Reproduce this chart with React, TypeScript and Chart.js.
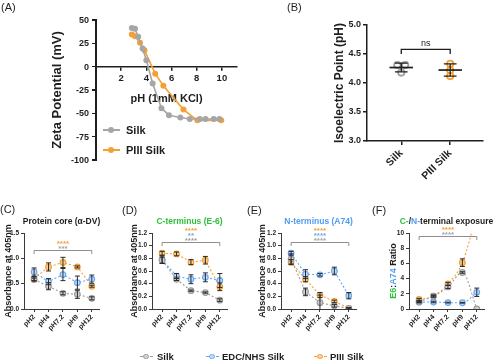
import React, { useEffect, useRef } from 'react';
import { Chart, registerables } from 'chart.js';

Chart.register(...registerables);

// ---------------- data ----------------
// (A) zeta potential vs pH (1mM KCl)
const zetaSilkPH = [2.85, 3.1, 3.35, 3.7, 4.0, 4.5, 5.2, 5.8, 6.7, 7.45, 8.25, 8.7, 9.35, 9.8];
const zetaSilkMV = [41.5, 40.5, 32, 19.5, 7, -18, -44.5, -52, -54.5, -56, -56, -56, -56, -56];
const zetaPIIIPH = [2.85, 3.1, 3.5, 3.85, 4.7, 5.35, 6.95, 8.05, 9.95];
const zetaPIIIMV = [34.5, 32.5, 25.5, 17.5, -7.5, -20.5, -46, -57.5, -57.5];
const zetaTicksX = [2, 4, 6, 8, 10];
const zetaTicksY = [-100, -75, -50, -25, 0, 25, 50];
const zetaRangePH = [0, 11.2];
const zetaRangeMV = [-100, 50];

// (B) isoelectric point
const pIGroups = ['Silk', 'PIII Silk'];
const pISilk = [4.31, 4.31, 4.18];
const pIPIII = [4.33, 4.22, 4.12];
const pISilkJitter = [-0.08, 0.08, 0];
const pIPIIIJitter = [0, 0, 0];
const pIBracketLevel = 4.58;
const pIBracketText = 'ns';

// (C-F) absorbance panels
const phLabels = ['pH2', 'pH4', 'pH7.2', 'pH9', 'pH12'];
const seriesNames = ['Silk', 'EDC/NHS Silk', 'PIII Silk'];

// (C) protein core
const coreSilk = [0.58, 0.45, 0.31, 0.29, 0.21];
const coreSilkErr = [0.03, 0.07, 0.03, 0.08, 0.03];
const coreEDC = [0.73, 0.54, 0.68, 0.52, 0.59];
const coreEDCErr = [0.08, 0.06, 0.12, 0.13, 0.08];
const corePIII = [0.6, 0.83, 0.92, 0.83, 0.45];
const corePIIIErr = [0.04, 0.08, 0.1, 0.02, 0.02];
const coreSig: [number, string][] = [[2, '****'], [0, '***']];

// (D) C-terminus
const cTermSilk = [0.77, 0.47, 0.29, 0.26, 0.14];
const cTermSilkErr = [0.05, 0.02, 0.01, 0.01, 0.02];
const cTermEDC = [0.78, 0.52, 0.47, 0.5, 0.45];
const cTermEDCErr = [0.06, 0.04, 0.07, 0.07, 0.11];
const cTermPIII = [0.88, 0.87, 0.74, 0.77, 0.35];
const cTermPIIIErr = [0.03, 0.03, 0.04, 0.06, 0.06];
const cTermSig: [number, string][] = [[2, '****'], [1, '**'], [0, '****']];

// (E) N-terminus
const nTermSilk = [0.79, 0.27, 0.1, 0.05, 0.01];
const nTermSilkErr = [0.08, 0.06, 0.12, 0.02, 0.01];
const nTermEDC = [0.88, 0.55, 0.54, 0.6, 0.21];
const nTermEDCErr = [0.03, 0.07, 0.02, 0.06, 0.05];
const nTermPIII = [0.74, 0.47, 0.22, 0.12, 0.01];
const nTermPIIIErr = [0.04, 0.04, 0.04, 0.02, 0.01];
const nTermSig: [number, string][] = [[2, '****'], [1, '****'], [0, '****']];

// (F) E6:A74 ratio
const ratioSilk = [0.95, 1.7, 2.9, 4.8, 0];
const ratioSilkErr = [0.1, 0.15, 0.2, 0.1, 0];
const ratioEDC = [0.9, 0.92, 0.84, 0.82, 2.2];
const ratioEDCErr = [0.1, 0.1, 0.05, 0.05, 0.55];
const ratioPIII = [1.25, 1.7, 3.3, 6.1, 12.5];
const ratioPIIIErr = [0.15, 0.1, 0.2, 0.5, 0];
const ratioSig: [number, string][] = [[2, '****'], [0, '****']];

// ---------------- style ----------------
const FONT = "'Liberation Sans', Arial, Helvetica, sans-serif";
const INK = '#1e1e1e';
const AXIS2 = '#3a3a3a';
const GRAY = '#9c9c9c';
const GRAY_FILL = '#d2d2d2';
const BLUE = '#6aa8f2';
const BLUE_FILL = '#c2dcfb';
const ORANGE = '#f5a034';
const ORANGE_FILL = '#f9cf96';
const GREEN = '#2fbf3a';
const TITLE_BLUE = '#4e9df0';
const ERR = '#2a2a2a';
const BRACKET = '#8e8e8e';
const LINE_COLORS = [GRAY, BLUE, ORANGE];
const FILL_COLORS = [GRAY_FILL, BLUE_FILL, ORANGE_FILL];
const STAR_COLORS = ['#a3a3a3', BLUE, ORANGE];

type Rect = { l: number; t: number; w: number; h: number };
type Area = { l: number; t: number; r: number; b: number };

const font = (size: number, bold = true) => ({ family: FONT, size, weight: bold ? 'bold' : 'normal' });

function axisLook(color: string, width: number, tickLength: number) {
  return {
    grid: { display: true, drawOnChartArea: false, drawTicks: true, tickLength, color, lineWidth: width },
    border: { display: true, color, width },
  };
}

// ---------------- plugins ----------------
const errorBarPlugin = {
  id: 'errorBars',
  afterDatasetsDraw(chart: any) {
    const { ctx, chartArea } = chart;
    const yScale = chart.scales.y;
    ctx.save();
    ctx.beginPath();
    ctx.rect(chartArea.left - 6, chartArea.top, chartArea.right - chartArea.left + 12, chartArea.bottom - chartArea.top);
    ctx.clip();
    ctx.strokeStyle = ERR;
    ctx.lineWidth = 1;
    chart.data.datasets.forEach((ds: any, i: number) => {
      if (!ds.errors) return;
      const meta = chart.getDatasetMeta(i);
      meta.data.forEach((pt: any, j: number) => {
        const e = ds.errors[j];
        if (!e) return;
        const v = ds.data[j].y;
        const top = yScale.getPixelForValue(v + e);
        const bot = yScale.getPixelForValue(v - e);
        ctx.beginPath();
        ctx.moveTo(pt.x, top);
        ctx.lineTo(pt.x, bot);
        ctx.moveTo(pt.x - 2.5, top);
        ctx.lineTo(pt.x + 2.5, top);
        ctx.moveTo(pt.x - 2.5, bot);
        ctx.lineTo(pt.x + 2.5, bot);
        ctx.stroke();
      });
    });
    ctx.restore();
  },
};

function sigPlugin(level: number, marks: [number, string][]) {
  return {
    id: 'sig',
    afterDraw(chart: any) {
      const { ctx } = chart;
      const { x, y } = chart.scales;
      const x1 = x.getPixelForValue(0);
      const x2 = x.getPixelForValue(phLabels.length - 1);
      const yb = Math.round(y.getPixelForValue(level)) + 0.5;
      ctx.save();
      ctx.strokeStyle = BRACKET;
      ctx.lineWidth = 1;
      ctx.beginPath();
      ctx.moveTo(x1, yb + 3.5);
      ctx.lineTo(x1, yb);
      ctx.lineTo(x2, yb);
      ctx.lineTo(x2, yb + 3.5);
      ctx.stroke();
      ctx.font = `bold 8px ${FONT}`;
      ctx.textAlign = 'center';
      ctx.textBaseline = 'alphabetic';
      const cx = (x1 + x2) / 2;
      marks.forEach(([s, txt], i) => {
        const k = marks.length - 1 - i;
        const cy = yb - 4 - k * 5.3;
        ctx.fillStyle = STAR_COLORS[s];
        ctx.fillText(txt, cx, cy + 4.6);
      });
      ctx.restore();
    },
  };
}

const pIStatsPlugin = {
  id: 'pIStats',
  afterDatasetsDraw(chart: any) {
    const { ctx } = chart;
    const { x, y } = chart.scales;
    const unit = x.getPixelForValue(2) - x.getPixelForValue(1);
    ctx.save();
    ctx.strokeStyle = INK;
    [pISilk, pIPIII].forEach((vals, g) => {
      const m = vals.reduce((a, b) => a + b, 0) / vals.length;
      const sd = Math.sqrt(vals.reduce((a, b) => a + (b - m) * (b - m), 0) / (vals.length - 1));
      const cx = x.getPixelForValue(g + 1);
      const ym = y.getPixelForValue(m);
      const yt = y.getPixelForValue(m + sd);
      const ybt = y.getPixelForValue(m - sd);
      ctx.lineWidth = 1.7;
      ctx.beginPath();
      ctx.moveTo(cx - 0.24 * unit, ym);
      ctx.lineTo(cx + 0.24 * unit, ym);
      ctx.stroke();
      ctx.lineWidth = 1.3;
      ctx.beginPath();
      ctx.moveTo(cx, yt);
      ctx.lineTo(cx, ybt);
      ctx.moveTo(cx - 0.13 * unit, yt);
      ctx.lineTo(cx + 0.13 * unit, yt);
      ctx.moveTo(cx - 0.13 * unit, ybt);
      ctx.lineTo(cx + 0.13 * unit, ybt);
      ctx.stroke();
    });
    const x1 = x.getPixelForValue(1);
    const x2 = x.getPixelForValue(2);
    const yb = y.getPixelForValue(pIBracketLevel);
    const yt = y.getPixelForValue(pIBracketLevel - 0.08);
    ctx.lineWidth = 1.3;
    ctx.beginPath();
    ctx.moveTo(x1, yt);
    ctx.lineTo(x1, yb);
    ctx.lineTo(x2, yb);
    ctx.lineTo(x2, yt);
    ctx.stroke();
    ctx.fillStyle = INK;
    ctx.font = `9px ${FONT}`;
    ctx.textAlign = 'center';
    ctx.textBaseline = 'alphabetic';
    ctx.fillText(pIBracketText, (x1 + x2) / 2, yb - 3.5);
    ctx.restore();
  },
};

// ---------------- configs ----------------
const rectA: Rect = { l: 0, t: 0, w: 250, h: 180 };
const areaA: Area = { l: 96, t: 20, r: 237, b: 160 };
const baseOpts = {
  responsive: false,
  animation: false,
  events: [],
};
const noLegend = { legend: { display: false }, tooltip: { enabled: false } };

// pixel of a mV value on panel A's linear y scale (same mapping as the chart's scale)
const zetaPx = (v: number) =>
  areaA.t + (areaA.b - areaA.t) * (zetaRangeMV[1] - v) / (zetaRangeMV[1] - zetaRangeMV[0]);

// (A) data layer
function configA() {
  return {
    type: 'scatter',
    data: {
      datasets: [
        {
          label: 'Silk',
          data: zetaSilkPH.map((x, i) => ({ x, y: zetaSilkMV[i] })),
          showLine: true,
          borderColor: '#a6a6a6',
          backgroundColor: '#a6a6a6',
          borderWidth: 1.6,
          pointRadius: 3,
          pointBorderWidth: 0,
        },
        {
          label: 'PIII Silk',
          data: zetaPIIIPH.map((x, i) => ({ x, y: zetaPIIIMV[i] })),
          showLine: true,
          borderColor: ORANGE,
          backgroundColor: ORANGE,
          borderWidth: 1.6,
          pointRadius: 3,
          pointBorderWidth: 0,
        },
      ],
    },
    options: {
      ...baseOpts,
      layout: { padding: { left: areaA.l - rectA.l, top: areaA.t - rectA.t, right: rectA.l + rectA.w - areaA.r, bottom: rectA.t + rectA.h - areaA.b } },
      plugins: noLegend,
      scales: {
        x: { type: 'linear', display: false, min: zetaRangePH[0], max: zetaRangePH[1] },
        y: { type: 'linear', display: false, min: zetaRangeMV[0], max: zetaRangeMV[1] },
      },
    },
  };
}

// (A) mV axis title layer
function configAy() {
  const yTitleX = 57;
  const tPadTop = 4;
  const tSize = 13;
  const padL = yTitleX - rectA.l - (tPadTop + tSize * 1.2 / 2);
  const yW = areaA.l - rectA.l - padL;
  return {
    type: 'scatter',
    data: { datasets: [] },
    options: {
      ...baseOpts,
      layout: { padding: { left: padL, top: areaA.t - rectA.t, right: rectA.l + rectA.w - areaA.r, bottom: rectA.t + rectA.h - areaA.b } },
      plugins: noLegend,
      scales: {
        x: { type: 'linear', display: false, min: zetaRangePH[0], max: zetaRangePH[1] },
        y: {
          type: 'linear',
          min: zetaRangeMV[0],
          max: zetaRangeMV[1],
          afterFit: (s: any) => { s.width = yW; },
          ticks: { display: false },
          grid: { display: false },
          border: { display: false },
          title: { display: true, text: 'Zeta Potential (mV)', font: font(tSize), color: INK, padding: { top: tPadTop, bottom: 4 } },
        },
      },
    },
  };
}

// (A) pH axis layer, crossing at 0 mV
function configAx() {
  const zeroY = zetaPx(0);
  const titleY = 99;
  const xH = titleY - zeroY + (11 * 1.2 / 2 + 4);
  return {
    type: 'scatter',
    data: { datasets: [] },
    options: {
      ...baseOpts,
      layout: { padding: { left: areaA.l - rectA.l, top: areaA.t - rectA.t, right: rectA.l + rectA.w - areaA.r, bottom: rectA.t + rectA.h - zeroY - xH } },
      plugins: noLegend,
      scales: {
        x: {
          type: 'linear',
          position: 'bottom',
          min: zetaRangePH[0],
          max: zetaRangePH[1],
          afterBuildTicks: (s: any) => { s.ticks = zetaTicksX.map((v) => ({ value: v })); },
          afterFit: (s: any) => { s.height = xH; },
          ticks: { font: font(9.5), color: INK, padding: 2, autoSkip: false, maxRotation: 0, callback: (v: number) => String(v) },
          title: { display: true, text: 'pH (1mM KCl)', font: font(11), color: INK, padding: { top: 4, bottom: 4 } },
          ...axisLook(INK, 1.5, 4),
        },
        y: { type: 'linear', display: false, min: 0, max: 1 },
      },
    },
  };
}

const rectB: Rect = { l: 250, t: 0, w: 250, h: 200 };
const areaB: Area = { l: 367, t: 25, r: 483, b: 141 };

function configB() {
  const yTitleX = 340;
  const padL = yTitleX - rectB.l - (4 + 12 * 1.2 / 2);
  const yW = areaB.l - rectB.l - padL;
  const pointStyle = (c: string) => ({
    showLine: false,
    borderColor: c,
    backgroundColor: 'rgba(255,255,255,0.9)',
    pointRadius: 3.2,
    pointBorderWidth: 1.8,
  });
  return {
    type: 'scatter',
    data: {
      datasets: [
        { label: pIGroups[0], data: pISilk.map((y, i) => ({ x: 1 + pISilkJitter[i], y })), ...pointStyle('#a0a0a0') },
        { label: pIGroups[1], data: pIPIII.map((y, i) => ({ x: 2 + pIPIIIJitter[i], y })), ...pointStyle(ORANGE) },
      ],
    },
    plugins: [pIStatsPlugin],
    options: {
      ...baseOpts,
      layout: { padding: { left: padL, top: areaB.t - rectB.t, right: rectB.l + rectB.w - areaB.r, bottom: 0 } },
      plugins: noLegend,
      scales: {
        x: {
          type: 'linear',
          min: 0.3,
          max: 2.67,
          afterBuildTicks: (s: any) => { s.ticks = pIGroups.map((_, i) => ({ value: i + 1 })); },
          afterFit: (s: any) => { s.height = rectB.t + rectB.h - areaB.b; },
          ticks: {
            font: font(10.5),
            color: INK,
            padding: 2,
            autoSkip: false,
            minRotation: 45,
            maxRotation: 45,
            callback: (v: number) => pIGroups[Math.round(v) - 1],
          },
          ...axisLook(INK, 1.5, 4),
        },
        y: {
          type: 'linear',
          min: 3,
          max: 5,
          afterFit: (s: any) => { s.width = yW; },
          ticks: { stepSize: 0.5, font: font(9), color: INK, padding: 2, callback: (v: number) => v.toFixed(1) },
          title: { display: true, text: 'Isoelectric Point (pH)', font: font(12), color: INK, padding: { top: 4, bottom: 4 } },
          ...axisLook(INK, 1.5, 4),
        },
      },
    },
  };
}

type Panel = {
  rect: Rect;
  area: Area;
  yTitle?: string;
  yTitleX: number;
  yMax: number;
  yStep: number;
  yDigits: number;
  vals: number[][];
  errs: number[][];
  sigLevel: number;
  sig: [number, string][];
  smooth?: boolean;
};

function assayConfig(p: Panel) {
  const lh = 9 * 1.2;
  const padL = p.yTitle ? p.yTitleX - p.rect.l - lh / 2 : 0;
  const yW = p.area.l - p.rect.l - padL;
  const xH = p.rect.t + p.rect.h - p.area.b;
  return {
    type: 'scatter',
    data: {
      datasets: p.vals.map((vals, s) => ({
        label: seriesNames[s],
        data: vals.map((v, i) => ({ x: i, y: v })),
        errors: p.errs[s],
        showLine: true,
        borderColor: LINE_COLORS[s],
        backgroundColor: FILL_COLORS[s],
        borderWidth: 1.1,
        borderDash: [2, 2],
        pointRadius: 2.8,
        pointBorderWidth: 1.2,
        pointBorderColor: LINE_COLORS[s],
        pointBackgroundColor: FILL_COLORS[s],
        cubicInterpolationMode: p.smooth ? 'monotone' : 'default',
        tension: 0,
      })),
    },
    plugins: [errorBarPlugin, sigPlugin(p.sigLevel, p.sig)],
    options: {
      ...baseOpts,
      layout: { padding: { left: padL, top: p.area.t - p.rect.t, right: p.rect.l + p.rect.w - p.area.r, bottom: 0 } },
      plugins: noLegend,
      scales: {
        x: {
          type: 'linear',
          min: -0.7,
          max: 4.5,
          afterBuildTicks: (s: any) => { s.ticks = phLabels.map((_, i) => ({ value: i })); },
          afterFit: (s: any) => { s.height = xH; },
          ticks: {
            font: font(7),
            color: INK,
            padding: 1,
            autoSkip: false,
            minRotation: 45,
            maxRotation: 45,
            callback: (v: number) => phLabels[Math.round(v)],
          },
          ...axisLook(AXIS2, 1, 3),
        },
        y: {
          type: 'linear',
          min: 0,
          max: p.yMax,
          afterFit: (s: any) => { s.width = yW; },
          ticks: { stepSize: p.yStep, font: font(6.5), color: INK, padding: 2, callback: (v: number) => v.toFixed(p.yDigits) },
          title: { display: !!p.yTitle, text: p.yTitle || '', font: font(9), color: INK, padding: { top: 0, bottom: 0 } },
          ...axisLook(AXIS2, 1, 3),
        },
      },
    },
  };
}

const panelC: Panel = {
  rect: { l: 0, t: 195, w: 106, h: 145 },
  area: { l: 24, t: 233, r: 99, b: 309 },
  yTitle: 'Absorbance at 405nm',
  yTitleX: 8.5,
  yMax: 1.5, yStep: 0.5, yDigits: 1,
  vals: [coreSilk, coreEDC, corePIII],
  errs: [coreSilkErr, coreEDCErr, corePIIIErr],
  sigLevel: 1.17, sig: coreSig,
};
const panelD: Panel = {
  rect: { l: 127, t: 195, w: 106, h: 145 },
  area: { l: 152, t: 233, r: 227, b: 309 },
  yTitle: 'Absorbance at 405nm',
  yTitleX: 135,
  yMax: 1.2, yStep: 0.2, yDigits: 1,
  vals: [cTermSilk, cTermEDC, cTermPIII],
  errs: [cTermSilkErr, cTermEDCErr, cTermPIIIErr],
  sigLevel: 1.06, sig: cTermSig,
};
const panelE: Panel = {
  rect: { l: 254, t: 195, w: 108, h: 145 },
  area: { l: 281, t: 233, r: 356, b: 309 },
  yTitle: 'Absorbance at 405nm',
  yTitleX: 262.5,
  yMax: 1.2, yStep: 0.2, yDigits: 1,
  vals: [nTermSilk, nTermEDC, nTermPIII],
  errs: [nTermSilkErr, nTermEDCErr, nTermPIIIErr],
  sigLevel: 1.05, sig: nTermSig,
};
const panelF: Panel = {
  rect: { l: 384, t: 195, w: 106, h: 145 },
  area: { l: 409, t: 233, r: 484, b: 309 },
  yTitleX: 393,
  yMax: 10, yStep: 2, yDigits: 0,
  vals: [ratioSilk, ratioEDC, ratioPIII],
  errs: [ratioSilkErr, ratioEDCErr, ratioPIIIErr],
  sigLevel: 9.6, sig: ratioSig,
  smooth: true,
};

// ---------------- components ----------------
function ChartCanvas({ rect, make }: { rect: Rect; make: () => any }) {
  const ref = useRef<HTMLCanvasElement>(null);
  useEffect(() => {
    const chart = new Chart(ref.current as HTMLCanvasElement, make() as any);
    return () => chart.destroy();
  }, []);
  return (
    <canvas
      ref={ref}
      width={rect.w}
      height={rect.h}
      style={{ position: 'absolute', left: rect.l, top: rect.t, width: rect.w, height: rect.h }}
    />
  );
}

function Txt({ x, y, size, bold = true, color = INK, anchor = 'middle', rotate, z, children }: any) {
  const tx = anchor === 'start' ? '0' : anchor === 'end' ? '-100%' : '-50%';
  return (
    <div
      style={{
        position: 'absolute',
        left: x,
        top: y,
        transform: `translate(${tx}, -50%)${rotate ? ` rotate(${rotate}deg)` : ''}`,
        font: `${bold ? 'bold ' : ''}${size}px ${FONT}`,
        lineHeight: 1,
        whiteSpace: 'nowrap',
        color,
        zIndex: z ?? 'auto',
      }}
    >
      {children}
    </div>
  );
}

function Marker({ cx, cy, color, fill, dashed, w, r, thick }: any) {
  return (
    <>
      <div
        style={{
          position: 'absolute',
          left: cx - w / 2,
          top: cy - thick / 2,
          width: w,
          height: 0,
          borderTop: `${thick}px ${dashed ? 'dashed' : 'solid'} ${color}`,
        }}
      />
      <div
        style={{
          position: 'absolute',
          left: cx - r,
          top: cy - r,
          width: 2 * r,
          height: 2 * r,
          boxSizing: 'border-box',
          borderRadius: '50%',
          background: fill,
          border: dashed ? `1.2px solid ${color}` : 'none',
        }}
      />
    </>
  );
}

// mV axis of panel (A): line, tick marks and labels placed on the linear scale mapping
function ZetaAxis() {
  const top = zetaPx(zetaRangeMV[1]);
  const bot = zetaPx(zetaRangeMV[0]);
  return (
    <>
      <div
        style={{
          position: 'absolute',
          left: areaA.l - 0.75,
          top: top - 0.75,
          width: 1.5,
          height: bot - top + 1.5,
          background: INK,
          zIndex: 4,
        }}
      />
      {zetaTicksY.map((v) => (
        <div
          key={`t${v}`}
          style={{
            position: 'absolute',
            left: areaA.l - 4.5,
            top: zetaPx(v) - 0.75,
            width: 4.5,
            height: 1.5,
            background: INK,
            zIndex: 4,
          }}
        />
      ))}
      {zetaTicksY.map((v) => (
        <Txt key={`l${v}`} x={areaA.l - 7} y={zetaPx(v)} size={9} anchor="end" z={4}>
          {String(v)}
        </Txt>
      ))}
    </>
  );
}

const cx = (a: Area) => (a.l + a.r) / 2;

export default function App() {
  return (
    <div
      style={{
        position: 'absolute',
        left: 0,
        top: 0,
        width: 500,
        height: 361,
        background: '#fff',
        overflow: 'hidden',
        fontFamily: FONT,
      }}
    >
      <ChartCanvas rect={rectA} make={configAy} />
      <ChartCanvas rect={rectA} make={configAx} />
      <ChartCanvas rect={rectA} make={configA} />
      <ChartCanvas rect={rectB} make={configB} />
      <ChartCanvas rect={panelC.rect} make={() => assayConfig(panelC)} />
      <ChartCanvas rect={panelD.rect} make={() => assayConfig(panelD)} />
      <ChartCanvas rect={panelE.rect} make={() => assayConfig(panelE)} />
      <ChartCanvas rect={panelF.rect} make={() => assayConfig(panelF)} />

      {/* panel letters */}
      <Txt x={1} y={6.5} size={11} bold={false} anchor="start">(A)</Txt>
      <Txt x={287} y={6.5} size={11} bold={false} anchor="start">(B)</Txt>
      <Txt x={0} y={208.5} size={11} bold={false} anchor="start">(C)</Txt>
      <Txt x={122} y={209.5} size={11} bold={false} anchor="start">(D)</Txt>
      <Txt x={247} y={209.5} size={11} bold={false} anchor="start">(E)</Txt>
      <Txt x={372} y={209.5} size={11} bold={false} anchor="start">(F)</Txt>

      {/* panel A legend */}
      <Marker cx={111} cy={130} color="#a6a6a6" fill="#a6a6a6" w={17} r={3.2} thick={2} />
      <Txt x={126} y={130} size={11} anchor="start">Silk</Txt>
      <Marker cx={111} cy={150} color={ORANGE} fill={ORANGE} w={17} r={3.2} thick={2} />
      <Txt x={126} y={150} size={11} anchor="start">PIII Silk</Txt>

      {/* panel titles */}
      <Txt x={cx(panelC.area)} y={220.5} size={8.5}>Protein core (α-DV)</Txt>
      <Txt x={cx(panelD.area)} y={220.5} size={8.5} color={GREEN}>C-terminus (E-6)</Txt>
      <Txt x={cx(panelE.area)} y={220.5} size={8.5} color={TITLE_BLUE}>N-terminus (A74)</Txt>
      <Txt x={cx(panelF.area)} y={220.5} size={8.5}>
        <span style={{ color: GREEN }}>C-</span>/<span style={{ color: TITLE_BLUE }}>N-</span>terminal exposure
      </Txt>
      <Txt x={panelF.yTitleX} y={(panelF.area.t + panelF.area.b) / 2} size={9} rotate={-90}>
        <span style={{ color: GREEN }}>E6</span>:<span style={{ color: TITLE_BLUE }}>A74</span> Ratio
      </Txt>

      {/* shared legend */}
      <Marker cx={146} cy={356.5} color={GRAY} fill={GRAY_FILL} dashed w={13} r={2.8} thick={1} />
      <Txt x={157} y={356.5} size={9.5} anchor="start">{seriesNames[0]}</Txt>
      <Marker cx={212} cy={356.5} color={BLUE} fill={BLUE_FILL} dashed w={13} r={2.8} thick={1} />
      <Txt x={222} y={356.5} size={9.5} anchor="start">{seriesNames[1]}</Txt>
      <Marker cx={320} cy={356.5} color={ORANGE} fill={ORANGE_FILL} dashed w={13} r={2.8} thick={1} />
      <Txt x={330} y={356.5} size={9.5} anchor="start">{seriesNames[2]}</Txt>

      <ZetaAxis />
    </div>
  );
}
